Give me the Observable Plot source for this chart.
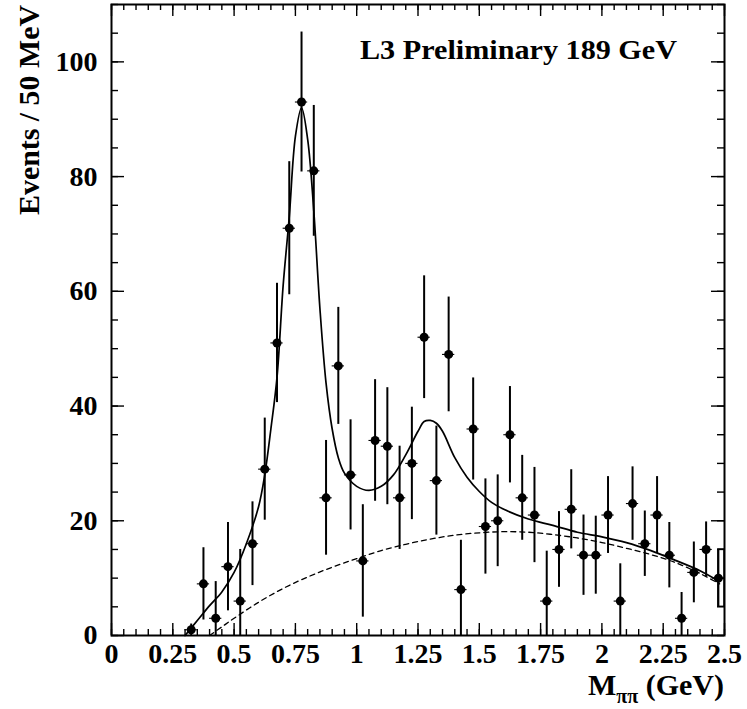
<!DOCTYPE html>
<html><head><meta charset="utf-8">
<script src="https://cdn.jsdelivr.net/npm/d3@7"></script>
<script src="https://cdn.jsdelivr.net/npm/@observablehq/plot@0.6"></script>
<style>body{margin:0;background:#fff} svg{display:block}</style>
</head><body><div id="chart"></div>
<script>
// ---- data ----
const binCenters = [0.325,0.375,0.425,0.475,0.525,0.575,0.625,0.675,0.725,0.775,
  0.825,0.875,0.925,0.975,1.025,1.075,1.125,1.175,1.225,1.275,
  1.325,1.375,1.425,1.475,1.525,1.575,1.625,1.675,1.725,1.775,
  1.825,1.875,1.925,1.975,2.025,2.075,2.125,2.175,2.225,2.275,
  2.325,2.375,2.425,2.475];
const counts = [1,9,3,12,6,16,29,51,71,93,
  81,24,47,28,13,34,33,24,30,52,
  27,49,8,36,19,20,35,24,21,6,
  15,22,14,14,21,6,23,16,21,14,
  3,11,15,10];
const errors = [1,6.3,6.4,7.7,9,7.3,8.9,10.4,11.6,12.2,
  11.4,10,10.2,9.6,9.8,10.6,10.2,9,9.8,10.7,
  9.5,10,8.6,8.9,8.3,8,8.4,7.4,8.3,8.7,
  6.6,6.9,7,6.8,6.7,6.5,6.4,5.7,6.7,5.7,
  4.5,5.3,4.8,5];
const binHalfWidth = 0.025;

const fitX = [0.30,0.35,0.40,0.45,0.50,0.55,0.60,0.625,0.65,0.675,0.70,0.725,0.75,0.775,0.80,0.825,0.85,0.875,0.90,0.925,0.95,1.00,1.05,1.10,1.15,1.20,1.25,1.275,1.30,1.325,1.35,1.40,1.45,1.50,1.55,1.60,1.70,1.80,1.90,2.00,2.10,2.20,2.30,2.40,2.48];
const fitY = [0,2.6,5.2,7.6,11,16,22.5,28,36,45,61,73,87,92,86.5,74,57,44,36,31,28.3,26,25.3,26,28,31.5,35.6,37.3,37.5,37,35.6,31,27.6,25.1,23.2,22,20.3,19.2,18,17.2,16.2,14.8,13.1,11.3,9.4];

const bkgX = [0.40,0.45,0.50,0.60,0.70,0.80,0.90,1.00,1.10,1.20,1.30,1.40,1.50,1.60,1.70,1.80,1.90,2.00,2.10,2.20,2.30,2.40,2.48];
const bkgY = [0,1.5,3.0,5.8,8.2,10.2,11.9,13.4,14.8,15.9,16.8,17.5,17.9,18.1,18.0,17.6,17.0,16.2,15.2,14.1,12.7,10.8,9.0];

const xTickValues = [0,0.25,0.5,0.75,1,1.25,1.5,1.75,2,2.25,2.5];
const xTickLabels = ["0","0.25","0.5","0.75","1","1.25","1.5","1.75","2","2.25","2.5"];
const yTickValues = [0,20,40,60,80,100];
const yTickLabels = ["0","20","40","60","80","100"];
const xMinorStep = 0.05, yMinorStep = 5;
const xDomain = [0, 2.5], yDomain = [0, 110];

const titleText = "L3 Preliminary 189 GeV";
const yLabelText = "Events / 50 MeV";

// ---- tables ----
const points = binCenters.map((x, i) => ({x, y: counts[i], e: errors[i]}));
const fit = fitX.map((x, i) => ({x, y: fitY[i]}));
const bkg = bkgX.map((x, i) => ({x, y: bkgY[i]}));
const xMinor = d3.range(0, Math.round(xDomain[1] / xMinorStep) + 1).map(k => +(k * xMinorStep).toFixed(3));
const yMinor = d3.range(0, Math.round(yDomain[1] / yMinorStep) + 1).map(k => k * yMinorStep);

const W = 747, H = 709, mL = 111, mR = 23, mT = 4, mB = 74;
const iW = W - mL - mR, iH = H - mT - mB;
const font = "'Liberation Serif', 'Times New Roman', serif";

const lastPt = points[points.length - 1];

const chart = Plot.plot({
  width: W, height: H,
  marginLeft: mL, marginRight: mR, marginTop: mT, marginBottom: mB,
  style: {fontFamily: font, fontWeight: "bold", background: "white", color: "black"},
  x: {domain: xDomain},
  y: {domain: yDomain},
  marks: [
    // inward ticks: bottom / top
    Plot.tickX(xMinor, {x: d => d, insetTop: iH - 6, strokeWidth: 1.4}),
    Plot.tickX(xTickValues, {x: d => d, insetTop: iH - 12, strokeWidth: 1.4}),
    Plot.tickX(xMinor, {x: d => d, insetBottom: iH - 6, strokeWidth: 1.4}),
    Plot.tickX(xTickValues, {x: d => d, insetBottom: iH - 12, strokeWidth: 1.4}),
    // inward ticks: left / right
    Plot.tickY(yMinor, {y: d => d, insetRight: iW - 7, strokeWidth: 1.4}),
    Plot.tickY(yTickValues, {y: d => d, insetRight: iW - 13, strokeWidth: 1.4}),
    Plot.tickY(yMinor, {y: d => d, insetLeft: iW - 7, strokeWidth: 1.4}),
    Plot.tickY(yTickValues, {y: d => d, insetLeft: iW - 13, strokeWidth: 1.4}),
    // background (dashed) and full fit (solid)
    Plot.line(bkg, {x: "x", y: "y", stroke: "black", strokeWidth: 1.3, strokeDasharray: "5,4", curve: "catmull-rom"}),
    Plot.line(fit, {x: "x", y: "y", stroke: "black", strokeWidth: 1.7, curve: "catmull-rom"}),
    // error bars
    Plot.ruleX(points, {x: "x", y1: d => Math.max(0, d.y - d.e), y2: d => d.y + d.e, stroke: "black", strokeWidth: 2}),
    Plot.ruleY(points, {y: "y", x1: d => d.x - binHalfWidth, x2: d => d.x + binHalfWidth, stroke: "black", strokeWidth: 1.1}),
    Plot.rect([lastPt], {x1: "x", x2: () => xDomain[1], y1: d => d.y - d.e, y2: d => d.y + d.e, fill: "none", stroke: "black", strokeWidth: 1.4}),
    Plot.dot(points, {x: "x", y: "y", r: 4.5, fill: "black", stroke: "none"}),
    Plot.frame({stroke: "black", strokeWidth: 2}),
    // axes labels
    Plot.axisX(xTickValues, {tickSize: 0, tickPadding: 8, fontSize: 28, fontWeight: "bold",
      tickFormat: d => xTickLabels[xTickValues.indexOf(d)], label: null}),
    Plot.axisY(yTickValues, {tickSize: 0, tickPadding: 14, fontSize: 28, fontWeight: "bold",
      tickFormat: d => yTickLabels[yTickValues.indexOf(d)], label: null})
  ]
});

document.getElementById("chart").appendChild(chart);
const svg = d3.select(chart);

// title
svg.append("text")
  .attr("x", 360).attr("y", 59)
  .attr("text-anchor", "start")
  .attr("font-family", font).attr("font-weight", "bold").attr("font-size", 28)
  .attr("textLength", 317).attr("lengthAdjust", "spacingAndGlyphs")
  .attr("fill", "black")
  .text(titleText);

// y label
svg.append("text")
  .attr("transform", "translate(39,5) rotate(-90)")
  .attr("text-anchor", "end")
  .attr("font-family", font).attr("font-weight", "bold").attr("font-size", 29)
  .attr("textLength", 210).attr("lengthAdjust", "spacingAndGlyphs")
  .attr("fill", "black")
  .text(yLabelText);

// x label with subscript
const xl = svg.append("text")
  .attr("x", 724).attr("y", 695)
  .attr("text-anchor", "end")
  .attr("font-family", font).attr("font-weight", "bold").attr("font-size", 30)
  .attr("fill", "black");
xl.append("tspan").text("M");
xl.append("tspan").attr("font-size", 20).attr("dy", 8).text("ππ");
xl.append("tspan").attr("dy", -8).text(" (GeV)");
</script>
</body></html>
